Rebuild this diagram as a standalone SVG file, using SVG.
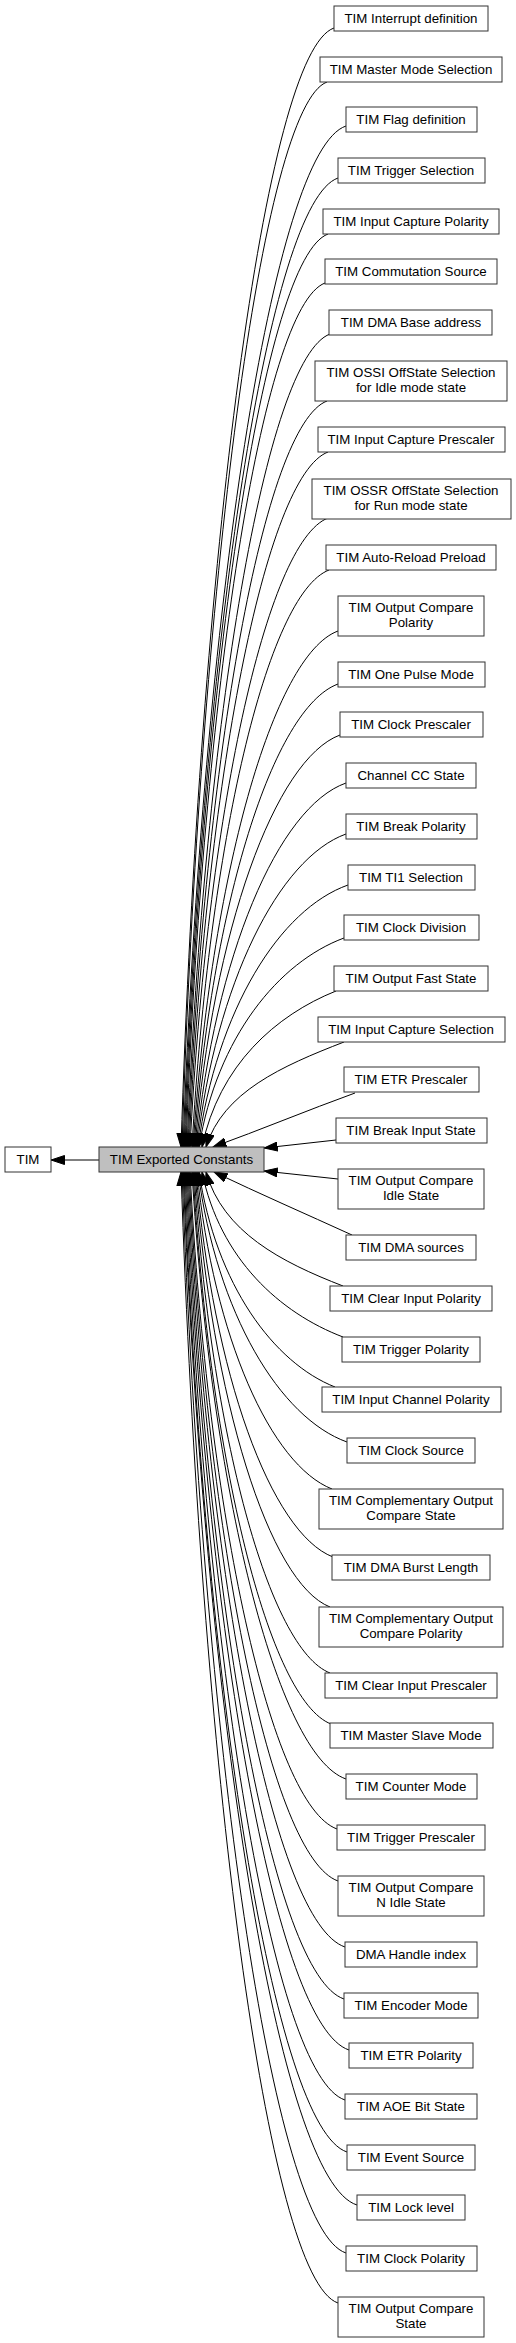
<svg xmlns="http://www.w3.org/2000/svg" width="516" height="2343" viewBox="0 0 516 2343">
<style>
.b{fill:#fff;stroke:#333;stroke-width:1}
.cur{fill:#bfbfbf;stroke:#333;stroke-width:1}
.t{font-family:"Liberation Sans",Arial,Helvetica,sans-serif;font-size:13.3px;fill:#000;text-anchor:middle}
.e{fill:none;stroke:#000;stroke-width:1;marker-end:url(#ah)}
</style>
<defs>
<marker id="ah" viewBox="0 0 14 10" refX="13.5" refY="5" markerWidth="14" markerHeight="10" markerUnits="userSpaceOnUse" orient="auto"><path d="M0,0.5 L13.5,5 L0,9.5 z" fill="#000" stroke="#000" stroke-width="1"/></marker>
</defs>
<rect width="516" height="2343" fill="#fff"/>
<g id="edges">
<path class="e" d="M99,1160 L51,1160"/>
<path class="e" d="M334,28 C265,52 200,560 181,1147"/>
<path class="e" d="M327,82 C262,106 200,588 182,1147"/>
<path class="e" d="M346,126 C273,150 203,611 183,1147"/>
<path class="e" d="M338,178 C269,202 203,638 184,1147"/>
<path class="e" d="M328,234 C264,258 203,668 185,1147"/>
<path class="e" d="M325,283 C262,307 203,693 186,1147"/>
<path class="e" d="M330,334 C266,358 205,720 187,1147"/>
<path class="e" d="M327,401 C264,425 205,755 188,1147"/>
<path class="e" d="M328,452 C265,476 206,782 189,1147"/>
<path class="e" d="M328,518 C266,542 207,817 190,1147"/>
<path class="e" d="M329,570 C267,594 209,844 192,1147"/>
<path class="e" d="M338,631 C273,655 211,876 193,1147"/>
<path class="e" d="M338,684 C273,708 212,904 194,1147"/>
<path class="e" d="M340,735 C275,759 213,931 195,1147"/>
<path class="e" d="M346,783 C278,807 215,956 196,1147"/>
<path class="e" d="M346,834 C279,858 216,983 197,1147"/>
<path class="e" d="M348,885 C280,909 217,1009 198,1147"/>
<path class="e" d="M344,938 C279,962 217,1037 199,1147"/>
<path class="e" d="M336,991 C276,1015 219,1065 202,1147"/>
<path class="e" d="M344,1042 C282,1066 223,1092 206,1147"/>
<path class="e" d="M355,1093 C308,1110 260,1130 213,1147"/>
<path class="e" d="M336,1140 L264,1148"/>
<path class="e" d="M338,1179 L264,1171"/>
<path class="e" d="M352,1235 C306,1214 260,1194 214,1172"/>
<path class="e" d="M343,1286 C281,1262 223,1232 206,1172"/>
<path class="e" d="M343,1337 C280,1313 220,1259 202,1172"/>
<path class="e" d="M335,1387 C274,1363 216,1285 199,1172"/>
<path class="e" d="M347,1442 C280,1418 217,1314 198,1172"/>
<path class="e" d="M332,1489 C271,1465 214,1338 197,1172"/>
<path class="e" d="M333,1557 C271,1533 213,1374 196,1172"/>
<path class="e" d="M330,1607 C269,1583 212,1400 195,1172"/>
<path class="e" d="M330,1673 C269,1649 211,1435 194,1172"/>
<path class="e" d="M331,1724 C269,1700 210,1462 193,1172"/>
<path class="e" d="M346,1779 C277,1755 211,1491 192,1172"/>
<path class="e" d="M337,1829 C271,1805 208,1517 190,1172"/>
<path class="e" d="M338,1881 C271,1857 208,1544 189,1172"/>
<path class="e" d="M345,1947 C274,1923 208,1579 188,1172"/>
<path class="e" d="M344,1999 C273,1975 207,1606 187,1172"/>
<path class="e" d="M349,2050 C276,2026 206,1633 186,1172"/>
<path class="e" d="M345,2100 C273,2076 205,1659 185,1172"/>
<path class="e" d="M347,2152 C274,2128 204,1687 184,1172"/>
<path class="e" d="M357,2205 C279,2181 205,1714 183,1172"/>
<path class="e" d="M346,2253 C272,2229 203,1740 182,1172"/>
<path class="e" d="M338,2303 C267,2279 201,1766 181,1172"/>
</g>
<g id="tim"><rect class="b" x="5" y="1147" width="46" height="25"/><text class="t" x="28" y="1163.5">TIM</text></g>
<g id="tec"><rect class="cur" x="99" y="1147" width="165" height="25"/><text class="t" x="181.5" y="1163.5">TIM Exported Constants</text></g>
<g id="n1"><rect class="b" x="334" y="6" width="154" height="25"/><text class="t" x="411" y="22.5">TIM Interrupt definition</text></g>
<g id="n2"><rect class="b" x="320" y="57" width="182" height="25"/><text class="t" x="411" y="73.5">TIM Master Mode Selection</text></g>
<g id="n3"><rect class="b" x="346" y="107" width="131" height="25"/><text class="t" x="411" y="123.5">TIM Flag definition</text></g>
<g id="n4"><rect class="b" x="338" y="158" width="147" height="25"/><text class="t" x="411" y="174.5">TIM Trigger Selection</text></g>
<g id="n5"><rect class="b" x="323" y="209" width="176" height="25"/><text class="t" x="411" y="225.5">TIM Input Capture Polarity</text></g>
<g id="n6"><rect class="b" x="325" y="259" width="172" height="25"/><text class="t" x="411" y="275.5">TIM Commutation Source</text></g>
<g id="n7"><rect class="b" x="329" y="310" width="163" height="25"/><text class="t" x="411" y="326.5">TIM DMA Base address</text></g>
<g id="n8"><rect class="b" x="315" y="361" width="192" height="40"/><text class="t" x="411" y="377.3">TIM OSSI OffState Selection</text><text class="t" x="411" y="392">for Idle mode state</text></g>
<g id="n9"><rect class="b" x="318" y="427" width="187" height="25"/><text class="t" x="411" y="443.5">TIM Input Capture Prescaler</text></g>
<g id="n10"><rect class="b" x="312" y="479" width="199" height="40"/><text class="t" x="411" y="495.3">TIM OSSR OffState Selection</text><text class="t" x="411" y="510">for Run mode state</text></g>
<g id="n11"><rect class="b" x="326" y="545" width="170" height="25"/><text class="t" x="411" y="561.5">TIM Auto-Reload Preload</text></g>
<g id="n12"><rect class="b" x="338" y="596" width="146" height="40"/><text class="t" x="411" y="612.3">TIM Output Compare</text><text class="t" x="411" y="627">Polarity</text></g>
<g id="n13"><rect class="b" x="338" y="662" width="147" height="25"/><text class="t" x="411" y="678.5">TIM One Pulse Mode</text></g>
<g id="n14"><rect class="b" x="340" y="712" width="143" height="25"/><text class="t" x="411" y="728.5">TIM Clock Prescaler</text></g>
<g id="n15"><rect class="b" x="346" y="763" width="130" height="25"/><text class="t" x="411" y="779.5">Channel CC State</text></g>
<g id="n16"><rect class="b" x="346" y="814" width="131" height="25"/><text class="t" x="411" y="830.5">TIM Break Polarity</text></g>
<g id="n17"><rect class="b" x="348" y="865" width="127" height="25"/><text class="t" x="411" y="881.5">TIM TI1 Selection</text></g>
<g id="n18"><rect class="b" x="344" y="915" width="135" height="25"/><text class="t" x="411" y="931.5">TIM Clock Division</text></g>
<g id="n19"><rect class="b" x="334" y="966" width="154" height="25"/><text class="t" x="411" y="982.5">TIM Output Fast State</text></g>
<g id="n20"><rect class="b" x="318" y="1017" width="187" height="25"/><text class="t" x="411" y="1033.5">TIM Input Capture Selection</text></g>
<g id="n21"><rect class="b" x="344" y="1067" width="135" height="25"/><text class="t" x="411" y="1083.5">TIM ETR Prescaler</text></g>
<g id="n22"><rect class="b" x="336" y="1118" width="151" height="25"/><text class="t" x="411" y="1134.5">TIM Break Input State</text></g>
<g id="n23"><rect class="b" x="338" y="1169" width="146" height="40"/><text class="t" x="411" y="1185.3">TIM Output Compare</text><text class="t" x="411" y="1200">Idle State</text></g>
<g id="n24"><rect class="b" x="346" y="1235" width="130" height="25"/><text class="t" x="411" y="1251.5">TIM DMA sources</text></g>
<g id="n25"><rect class="b" x="330" y="1286" width="162" height="25"/><text class="t" x="411" y="1302.5">TIM Clear Input Polarity</text></g>
<g id="n26"><rect class="b" x="342" y="1337" width="138" height="25"/><text class="t" x="411" y="1353.5">TIM Trigger Polarity</text></g>
<g id="n27"><rect class="b" x="322" y="1387" width="179" height="25"/><text class="t" x="411" y="1403.5">TIM Input Channel Polarity</text></g>
<g id="n28"><rect class="b" x="347" y="1438" width="128" height="25"/><text class="t" x="411" y="1454.5">TIM Clock Source</text></g>
<g id="n29"><rect class="b" x="319" y="1489" width="184" height="40"/><text class="t" x="411" y="1505.3">TIM Complementary Output</text><text class="t" x="411" y="1520">Compare State</text></g>
<g id="n30"><rect class="b" x="332" y="1555" width="158" height="25"/><text class="t" x="411" y="1571.5">TIM DMA Burst Length</text></g>
<g id="n31"><rect class="b" x="319" y="1607" width="184" height="40"/><text class="t" x="411" y="1623.3">TIM Complementary Output</text><text class="t" x="411" y="1638">Compare Polarity</text></g>
<g id="n32"><rect class="b" x="325" y="1673" width="172" height="25"/><text class="t" x="411" y="1689.5">TIM Clear Input Prescaler</text></g>
<g id="n33"><rect class="b" x="330" y="1723" width="163" height="25"/><text class="t" x="411" y="1739.5">TIM Master Slave Mode</text></g>
<g id="n34"><rect class="b" x="346" y="1774" width="131" height="25"/><text class="t" x="411" y="1790.5">TIM Counter Mode</text></g>
<g id="n35"><rect class="b" x="337" y="1825" width="148" height="25"/><text class="t" x="411" y="1841.5">TIM Trigger Prescaler</text></g>
<g id="n36"><rect class="b" x="338" y="1876" width="146" height="40"/><text class="t" x="411" y="1892.3">TIM Output Compare</text><text class="t" x="411" y="1907">N Idle State</text></g>
<g id="n37"><rect class="b" x="345" y="1942" width="132" height="25"/><text class="t" x="411" y="1958.5">DMA Handle index</text></g>
<g id="n38"><rect class="b" x="344" y="1993" width="134" height="25"/><text class="t" x="411" y="2009.5">TIM Encoder Mode</text></g>
<g id="n39"><rect class="b" x="349" y="2043" width="124" height="25"/><text class="t" x="411" y="2059.5">TIM ETR Polarity</text></g>
<g id="n40"><rect class="b" x="345" y="2094" width="132" height="25"/><text class="t" x="411" y="2110.5">TIM AOE Bit State</text></g>
<g id="n41"><rect class="b" x="347" y="2145" width="128" height="25"/><text class="t" x="411" y="2161.5">TIM Event Source</text></g>
<g id="n42"><rect class="b" x="357" y="2195" width="108" height="25"/><text class="t" x="411" y="2211.5">TIM Lock level</text></g>
<g id="n43"><rect class="b" x="346" y="2246" width="131" height="25"/><text class="t" x="411" y="2262.5">TIM Clock Polarity</text></g>
<g id="n44"><rect class="b" x="338" y="2297" width="146" height="40"/><text class="t" x="411" y="2313.3">TIM Output Compare</text><text class="t" x="411" y="2328">State</text></g>
</svg>
